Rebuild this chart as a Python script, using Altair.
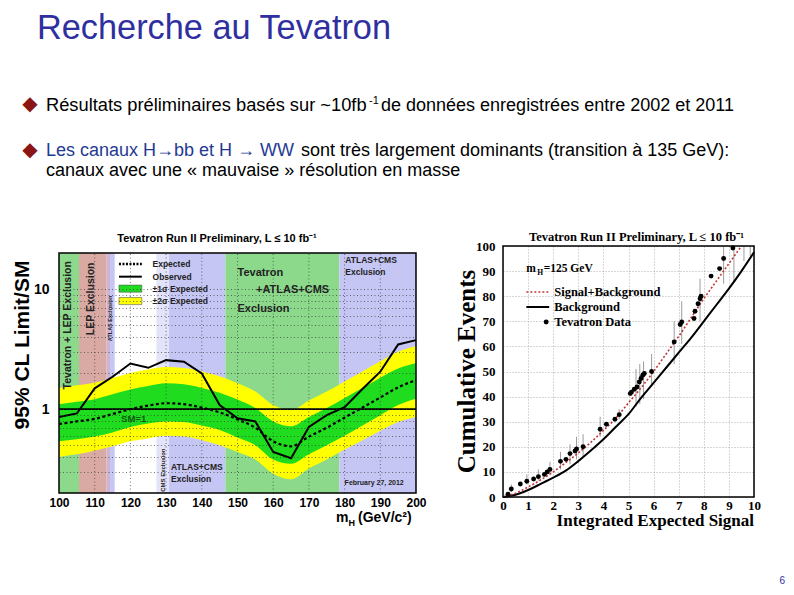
import altair as alt
import pandas as pd

SANS = "Liberation Sans"
SERIF = "Liberation Serif"

# ---------------- left panel: Tevatron combined limit ----------------
mass = [100, 105, 110, 115, 120, 125, 130, 135, 140, 145, 150,
        155, 160, 165, 170, 175, 180, 185, 190, 195, 200]
expected_limit = [0.75, 0.79, 0.83, 0.91, 1.00, 1.07, 1.12, 1.10, 1.03, 0.94, 0.82,
                  0.70, 0.54, 0.49, 0.59, 0.70, 0.85, 1.03, 1.25, 1.52, 1.74]
observed_limit = [0.86, 0.92, 1.49, 1.86, 2.40, 2.21, 2.56, 2.48, 1.98, 1.08, 0.84,
                  0.79, 0.44, 0.39, 0.71, 0.89, 1.04, 1.47, 2.05, 3.46, 3.76]
band2_high = [1.50, 1.58, 1.66, 1.82, 2.00, 2.14, 2.24, 2.20, 2.06, 1.88, 1.64,
              1.40, 1.08, 0.98, 1.18, 1.40, 1.70, 2.06, 2.50, 3.00, 3.35]
band1_high = [1.10, 1.15, 1.21, 1.33, 1.46, 1.56, 1.64, 1.61, 1.50, 1.37, 1.20,
              1.02, 0.79, 0.72, 0.86, 1.02, 1.24, 1.50, 1.83, 2.18, 2.42]
band1_low = [0.54, 0.56, 0.59, 0.64, 0.71, 0.76, 0.79, 0.78, 0.73, 0.67, 0.58,
             0.50, 0.38, 0.35, 0.42, 0.50, 0.60, 0.73, 0.89, 1.08, 1.22]
band2_low = [0.40, 0.42, 0.45, 0.49, 0.54, 0.57, 0.60, 0.59, 0.55, 0.50, 0.44,
             0.38, 0.29, 0.26, 0.32, 0.38, 0.46, 0.55, 0.66, 0.78, 0.86]

excl_start = [100, 105.6, 113.3, 114.3, 127.3, 130.8, 146.6, 178.5]
excl_end = [105.6, 113.3, 114.3, 115.6, 130.8, 146.6, 178.5, 200]
excl_kind = ["Tevatron+LEP", "LEP", "LEP/ATLAS", "ATLAS", "CMS",
             "ATLAS+CMS", "Tevatron+ATLAS+CMS", "ATLAS+CMS"]
mass_grid = [110, 120, 130, 140, 150, 160, 170, 180, 190]
limit_grid = [0.2, 0.3, 0.4, 0.5, 0.6, 0.7, 0.8, 0.9, 1, 2, 3, 4, 5, 6, 7, 8, 9, 10, 20]

# ---------------- right panel: cumulative events ----------------
signal_grid = [0, 0.5, 1, 1.5, 2, 2.5, 3, 3.5, 4, 4.5, 5, 5.5, 6, 6.5, 7, 7.5, 8, 8.5, 9, 9.5, 10]
background_cum = [0, 0.9, 2.8, 5.2, 7.7, 10.5, 14.3, 18.5, 23, 28, 33, 39.5, 45.5, 51.5,
                  57.5, 63.5, 70, 76.5, 83, 90, 97.5]
splusb_cum = [0, 1.5, 4, 6.8, 10, 13.7, 17.5, 21.8, 26.5, 31.5, 37.5, 43.5, 50, 57,
              64, 71.5, 79, 86, 93, 100, 107]
data_signal = [0.2, 0.33, 0.69, 0.95, 1.22, 1.41, 1.65, 1.76, 1.87, 2.29, 2.51, 2.67, 2.87,
               2.93, 3.19, 3.87, 4.12, 4.46, 4.63, 5.07, 5.12, 5.23, 5.34, 5.43, 5.5, 5.57,
               5.63, 5.92, 6.82, 7.06, 7.12, 7.61, 7.65, 7.77, 7.85, 7.89, 8.29, 8.63, 8.79, 9.16]
data_events = [1.1, 3.2, 5.2, 6.3, 7.2, 8.1, 9.0, 10, 11, 14.2, 15, 17.3, 18.3,
               19.1, 20, 27, 29, 31, 32.8, 41.2, 41.8, 42.9, 43.8, 45.8, 47.2, 48.5,
               49.2, 50, 61.8, 68.7, 69.7, 71.1, 74, 77, 79, 80, 88, 91, 95, 99.2]
err_signal = [0.33, 0.95, 1.41, 1.87, 2.29, 2.67, 2.93, 3.19, 3.87, 4.63, 5.3, 5.45,
              5.6, 5.92, 6.82, 7.12, 7.85, 8.79, 9.2, 9.6, 9.85]
err_low = [2, 5, 6.5, 9, 11, 13, 15, 16, 24, 31, 36, 37, 39, 44, 53, 61, 70, 85, 86, 94, 96]
err_high = [5, 9, 11, 14, 18, 21, 24, 25, 32, 35, 51, 53, 54, 57, 70, 78, 87, 100, 99, 100, 100]

# ---------------- layout constants ----------------
LW, LH = 357, 247          # left view (plot frame occupies 7..247)
RW, RH = 251, 251
LX0, LY0 = 58, 246         # page position of left view
RX0, RY0 = 502, 246        # page position of right view

# ---------------- left panel ----------------
LXS = alt.Scale(domain=[100, 200], nice=False, zero=False)
LYS = alt.Scale(type="log", domain=[0.2, 20], nice=False, range=[LH, 7])
lxaxis = alt.Axis(values=list(range(100, 201, 10)), title=None, grid=False, ticks=False,
                  domain=False, labelFont=SANS, labelFontWeight="bold", labelFontSize=12,
                  labelPadding=4, labelColor="black", labelFlush=False)
lyaxis = alt.Axis(values=limit_grid, title=None, grid=True, gridColor="#333333",
                  gridDash=[1, 2.5], gridWidth=0.8, gridOpacity=0.85, ticks=False, domain=False,
                  labelExpr="datum.value == 1 ? '1' : (datum.value == 10 ? '10' : '')",
                  labelFont=SANS, labelFontWeight="bold", labelFontSize=14, labelPadding=10,
                  labelColor="black", labelOverlap=False, zindex=1)


def LX(f):
    return alt.X(f, type="quantitative", scale=LXS, axis=lxaxis)


def LY(f):
    return alt.Y(f, type="quantitative", scale=LYS, axis=lyaxis)


def ltext(x, y, s, size, align="left", baseline="alphabetic", angle=0, color="black",
          weight="bold"):
    d = pd.DataFrame({"x": [x], "y": [y], "t": [s]})
    return alt.Chart(d).mark_text(align=align, baseline=baseline, angle=angle, fontSize=size,
                                  font=SANS, fontWeight=weight, color=color).encode(
        x=LX("x"), y=LY("y"), text="t:N")


def ptext(px, py, s, size, x0, y0, align="left", baseline="alphabetic", angle=0,
          color="black", weight="normal", font=SANS):
    d = pd.DataFrame({"t": [s]})
    return alt.Chart(d).mark_text(align=align, baseline=baseline, angle=angle, fontSize=size,
                                  font=font, fontWeight=weight, color=color).encode(
        x=alt.value(px - x0), y=alt.value(py - y0), text="t:N")


limits = pd.DataFrame({"m": mass, "exp": expected_limit, "obs": observed_limit,
                       "p2": band2_high, "p1": band1_high, "m1": band1_low, "m2": band2_low})
regions = pd.DataFrame({"start": excl_start, "end": excl_end, "kind": excl_kind})
regions["lo"] = 0.2
regions["hi"] = 20

kind_dom = ["Tevatron+LEP", "LEP", "LEP/ATLAS", "ATLAS", "CMS", "ATLAS+CMS", "Tevatron+ATLAS+CMS"]
kind_rng = ["#8cd98c", "#d9a9a3", "#cfb3cf", "#c6c6f5", "#e3e3fa", "#c6c6f5", "#8cd98c"]
BAND1 = "#1fdc1f"
BAND2 = "#ffff00"

bg = alt.Chart(regions).mark_rect().encode(
    x=LX("start"), x2="end", y=LY("lo"), y2="hi",
    color=alt.Color("kind:N", scale=alt.Scale(domain=kind_dom, range=kind_rng), legend=None))
yellow = alt.Chart(limits).mark_area(color=BAND2, opacity=1, interpolate="monotone").encode(
    x=LX("m"), y=LY("m2"), y2="p2")
green = alt.Chart(limits).mark_area(color=BAND1, opacity=1, interpolate="monotone").encode(
    x=LX("m"), y=LY("m1"), y2="p1")
vgrid_df = pd.DataFrame({"g": mass_grid})
vgrid_df["y0"] = 0.2
vgrid_df["y1"] = 20
vgrid = alt.Chart(vgrid_df).mark_rule(color="#333333", strokeDash=[1, 2.5], strokeWidth=0.8,
                                      opacity=0.85).encode(x=LX("g"), y=LY("y0"), y2="y1")
sm_line = alt.Chart(pd.DataFrame({"v": [1]})).mark_rule(color="black", strokeWidth=1.6).encode(
    y=LY("v"))
exp_line = alt.Chart(limits).mark_line(color="black", strokeWidth=2.2, strokeDash=[3, 2.5],
                                       interpolate="monotone").encode(x=LX("m"), y=LY("exp"))
obs_line = alt.Chart(limits).mark_line(color="black", strokeWidth=2).encode(
    x=LX("m"), y=LY("obs"))

leg_exp = alt.Chart(pd.DataFrame({"x0": [116.8], "x1": [123.2], "y": [16.2]})).mark_rule(
    color="black", strokeWidth=2.4, strokeDash=[2, 1.5]).encode(x=LX("x0"), x2="x1", y=LY("y"))
leg_obs = alt.Chart(pd.DataFrame({"x0": [116.8], "x1": [123.2], "y": [12.7]})).mark_rule(
    color="black", strokeWidth=2).encode(x=LX("x0"), x2="x1", y=LY("y"))
leg_g = alt.Chart(pd.DataFrame({"x0": [116.8], "x1": [123.2], "y0": [9.44], "y1": [10.8]})).mark_rect(
    color=BAND1, stroke="#555555", strokeWidth=0.6).encode(x=LX("x0"), x2="x1", y=LY("y0"), y2="y1")
leg_y = alt.Chart(pd.DataFrame({"x0": [116.8], "x1": [123.2], "y0": [7.43], "y1": [8.5]})).mark_rect(
    color=BAND2, stroke="#555555", strokeWidth=0.6).encode(x=LX("x0"), x2="x1", y=LY("y0"), y2="y1")

frame_l = alt.Chart(pd.DataFrame({"x0": [100], "x1": [200], "y0": [0.2], "y1": [20]})).mark_rect(
    fillOpacity=0, stroke="black", strokeWidth=1.5).encode(x=LX("x0"), x2="x1", y=LY("y0"), y2="y1")

anchor = alt.Chart(pd.DataFrame({"a": [0]})).mark_rule(color="white", strokeWidth=1).encode(
    x=alt.value(8 - LX0), x2=alt.value(9 - LX0), y=alt.value(8.5 - LY0))

L = dict(x0=LX0, y0=LY0)
left_layers = [
    bg, yellow, green, vgrid, sm_line, exp_line, obs_line,
    ltext(102.4, 5.0, "Tevatron + LEP Exclusion", 10.5, align="center", baseline="middle",
          angle=270, color="#222222"),
    ltext(109.0, 8.3, "LEP Exclusion", 10.5, align="center", baseline="middle", angle=270,
          color="#222222"),
    ltext(114.4, 5.7, "ATLAS Exclusion", 5.5, align="center", baseline="middle", angle=270,
          color="#222222"),
    ltext(129.0, 0.31, "CMS Exclusion", 6, align="center", baseline="middle", angle=270,
          color="#222222"),
    ltext(150.0, 12.8, "Tevatron", 11, color="#222222"),
    ltext(155.2, 9.2, "+ATLAS+CMS", 11, color="#222222"),
    ltext(150.0, 6.5, "Exclusion", 11, color="#222222"),
    ltext(180.2, 16.4, "ATLAS+CMS", 8.5, color="#222222"),
    ltext(180.2, 13.1, "Exclusion", 8.5, color="#222222"),
    ltext(131.4, 0.31, "ATLAS+CMS", 8.5, color="#222222"),
    ltext(131.4, 0.248, "Exclusion", 8.5, color="#222222"),
    ltext(180.0, 0.233, "February 27, 2012", 7, color="#222222"),
    ltext(117.4, 0.78, "SM=1", 9.5, color="#0d5a0d"),
    leg_exp, leg_obs, leg_g, leg_y,
    ltext(126.2, 16.2, "Expected", 8.5, baseline="middle", color="#222222"),
    ltext(126.2, 12.7, "Observed", 8.5, baseline="middle", color="#222222"),
    ltext(126.2, 10.1, "\u00b11\u03c3 Expected", 8.5, baseline="middle", color="#222222"),
    ltext(126.2, 7.95, "\u00b12\u03c3 Expected", 8.5, baseline="middle", color="#222222"),
    frame_l,
    # panel titles / axis titles
    ptext(216, 242, "Tevatron Run II Preliminary, L \u2264 10 fb\u207b\u00b9", 11, align="center",
          weight="bold", **L),
    ptext(22, 345, "95% CL Limit/SM", 21, align="center", baseline="middle", angle=270,
          weight="bold", **L),
    ptext(335, 522, "m", 14, weight="bold", **L),
    ptext(347.5, 525.5, "H", 9, weight="bold", **L),
    ptext(357, 522, "(GeV/c\u00b2)", 14, weight="bold", **L),
    # slide header
    ptext(36, 39, "Recherche au Tevatron", 34.3, color="#2f2f9f", **L),
    ptext(29, 104, "\u25c6", 20, align="center", baseline="middle", color="#8b1515",
          font="DejaVu Sans", **L),
    ptext(45, 111, "R\u00e9sultats pr\u00e9liminaires bas\u00e9s sur ~10fb", 18.3, **L),
    ptext(368, 103.5, "-1", 11, **L),
    ptext(380, 111, "de donn\u00e9es enregistr\u00e9es entre 2002 et 2011", 18, **L),
    ptext(29, 150, "\u25c6", 20, align="center", baseline="middle", color="#8b1515",
          font="DejaVu Sans", **L),
    ptext(45, 155.5, "Les canaux H\u2192bb et H \u2192 WW", 18, color="#1f3a93", **L),
    ptext(300, 155.5, "sont tr\u00e8s largement dominants (transition \u00e0 135 GeV):", 18, **L),
    ptext(45, 175.5, "canaux avec une \u00ab mauvaise \u00bb r\u00e9solution en masse", 18, **L),
    ptext(784, 584, "6", 10, align="right", color="#2f2f9f", **L),
    anchor,
]
left = alt.layer(*left_layers).properties(width=LW, height=LH)

# ---------------- right panel ----------------
RXS = alt.Scale(domain=[0, 10], nice=False, zero=False)
RYS = alt.Scale(domain=[0, 100], nice=False, zero=False)
rxaxis = alt.Axis(values=list(range(0, 11)), title=None, grid=True, gridColor="#9a9a9a",
                  gridDash=[1, 2], gridWidth=0.8, ticks=False, domain=False, labelFont=SERIF,
                  labelFontWeight="bold", labelFontSize=13, labelPadding=2, labelColor="black",
                  labelFlush=False)
ryaxis = alt.Axis(values=list(range(0, 101, 10)), title=None, grid=True, gridColor="#9a9a9a",
                  gridDash=[1, 2], gridWidth=0.8, ticks=False, domain=False, labelFont=SERIF,
                  labelFontWeight="bold", labelFontSize=13, labelPadding=8, labelColor="black",
                  labelFlush=False)


def RX(f):
    return alt.X(f, type="quantitative", scale=RXS, axis=rxaxis)


def RY(f):
    return alt.Y(f, type="quantitative", scale=RYS, axis=ryaxis)


def rtext(x, y, s, size, align="left", baseline="alphabetic"):
    d = pd.DataFrame({"x": [x], "y": [y], "t": [s]})
    return alt.Chart(d).mark_text(align=align, baseline=baseline, fontSize=size, font=SERIF,
                                  fontWeight="bold", color="black").encode(
        x=RX("x"), y=RY("y"), text="t:N")


curves = pd.DataFrame({"s": signal_grid, "b": background_cum, "sb": splusb_cum})
pts = pd.DataFrame({"s": data_signal, "n": data_events})
errs = pd.DataFrame({"s": err_signal, "lo": err_low, "hi": err_high})

R = dict(x0=RX0, y0=RY0)
right_layers = [
    alt.Chart(errs).mark_rule(color="#9c9c9c", strokeWidth=1).encode(
        x=RX("s"), y=RY("lo"), y2="hi"),
    alt.Chart(curves).mark_line(color="black", strokeWidth=2, interpolate="monotone").encode(
        x=RX("s"), y=RY("b")),
    alt.Chart(curves).mark_line(color="#c03535", strokeWidth=1.6, strokeDash=[2, 2],
                                interpolate="monotone", clip=True).encode(
        x=RX("s"), y=RY("sb")),
    alt.Chart(pts).mark_circle(size=24, color="black", opacity=1).encode(
        x=RX("s"), y=RY("n")),
    # legend
    rtext(0.93, 89.6, "m", 11.5),
    rtext(1.36, 88.4, "H", 7.5),
    rtext(1.62, 89.6, "=125 GeV", 11.5),
    alt.Chart(pd.DataFrame({"x0": [0.93], "x1": [1.84], "y": [81.7]})).mark_rule(
        color="#c03535", strokeWidth=1.6, strokeDash=[2, 2]).encode(x=RX("x0"), x2="x1", y=RY("y")),
    alt.Chart(pd.DataFrame({"x0": [0.93], "x1": [1.84], "y": [75.7]})).mark_rule(
        color="black", strokeWidth=2).encode(x=RX("x0"), x2="x1", y=RY("y")),
    alt.Chart(pd.DataFrame({"x": [1.72], "y": [69.7]})).mark_circle(
        size=24, color="black", opacity=1).encode(x=RX("x"), y=RY("y")),
    rtext(2.04, 81.7, "Signal+Background", 12.5, baseline="middle"),
    rtext(2.04, 75.7, "Background", 12.5, baseline="middle"),
    rtext(2.04, 69.7, "Tevatron Data", 12.5, baseline="middle"),
    alt.Chart(pd.DataFrame({"x0": [0], "x1": [10], "y0": [0], "y1": [100]})).mark_rect(
        fillOpacity=0, stroke="black", strokeWidth=1.5).encode(
        x=RX("x0"), x2="x1", y=RY("y0"), y2="y1"),
    ptext(635.5, 241, "Tevatron Run II Preliminary, L \u2264 10 fb\u207b\u00b9", 12.5,
          align="center", weight="bold", font=SERIF, **R),
    ptext(466, 371.5, "Cumulative Events", 25, align="center", baseline="middle", angle=270,
          weight="bold", font=SERIF, **R),
    ptext(753, 526, "Integrated Expected Signal", 17, align="right", weight="bold",
          font=SERIF, **R),
]
right = alt.layer(*right_layers).properties(width=RW, height=RH)

chart = alt.hconcat(left, right, spacing=RX0 - (LX0 + LW), bounds="flush").properties(
    padding=0, background="white").configure_view(stroke=None)

chart.save("out.html", embed_options={"renderer": "svg", "actions": False})
